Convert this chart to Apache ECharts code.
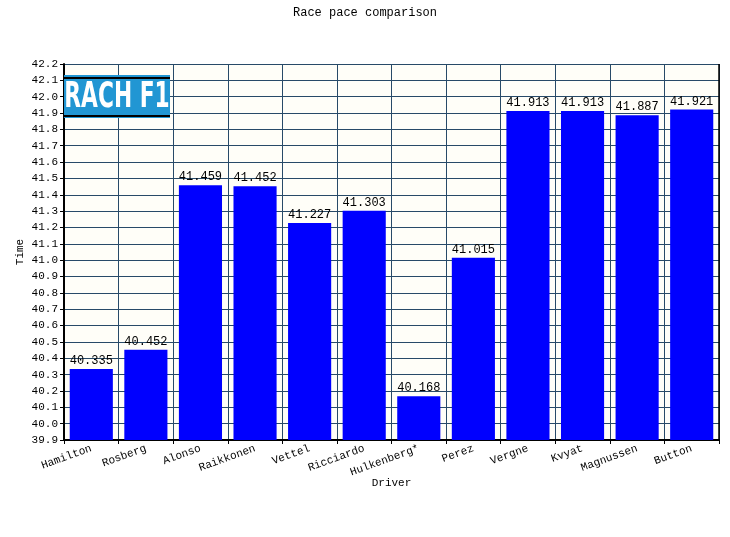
<!DOCTYPE html>
<html><head><meta charset="utf-8">
<script src="https://cdn.jsdelivr.net/npm/echarts@6/dist/echarts.min.js"></script>
<style>html,body{margin:0;padding:0;background:#fff}#c{width:730px;height:537px}</style>
</head><body><div id="c"></div>
<script>
var drivers = ['Hamilton','Rosberg','Alonso','Raikkonen','Vettel','Ricciardo','Hulkenberg*','Perez','Vergne','Kvyat','Magnussen','Button'];
var paceTimes = [40.335, 40.452, 41.459, 41.452, 41.227, 41.303, 40.168, 41.015, 41.913, 41.913, 41.887, 41.921];
var yMin = 39.9, yMax = 42.2, yStep = 0.1;

var mono = '"Liberation Mono", "DejaVu Sans Mono", monospace';
var chart = echarts.init(document.getElementById('c'), null, {renderer:'canvas'});
chart.setOption({
  animation: false,
  backgroundColor: '#ffffff',
  title: {
    text: 'Race pace comparison', left: 'center', top: 2,
    textStyle: {fontFamily: mono, fontSize: 12, fontWeight: 'normal', color: '#000'}
  },
  grid: {left: 64, right: 11, top: 64, bottom: 97, show: true, backgroundColor: '#fffef8', borderWidth: 0},
  xAxis: {
    type: 'category', data: drivers,
    name: 'Driver', nameLocation: 'middle', nameGap: 38, nameMoveOverlap: false,
    nameTextStyle: {fontFamily: mono, fontSize: 11, color: '#000'},
    axisLine: {show: true, lineStyle: {color: '#000', width: 2}},
    axisTick: {show: true, alignWithLabel: false, length: 4, lineStyle: {color: '#000'}},
    axisLabel: {rotate: 20, fontFamily: mono, fontSize: 11, color: '#000', margin: 8, interval: 0},
    splitLine: {show: true, interval: 0, lineStyle: {color: '#284a68', width: 1}}
  },
  yAxis: {
    type: 'value', min: yMin, max: yMax, interval: yStep,
    name: 'Time', nameLocation: 'middle', nameGap: 38, nameRotate: 90, nameMoveOverlap: false,
    nameTextStyle: {fontFamily: mono, fontSize: 11, color: '#000'},
    axisLine: {show: true, lineStyle: {color: '#000', width: 2}},
    axisTick: {show: true, length: 4, lineStyle: {color: '#000'}},
    axisLabel: {fontFamily: mono, fontSize: 11, color: '#000', margin: 6,
      formatter: function(v){ return v.toFixed(1); }},
    splitLine: {show: true, lineStyle: {color: '#284a68', width: 1}}
  },
  series: [{
    type: 'bar', data: paceTimes, barCategoryGap: '21%',
    itemStyle: {color: '#0000ff'},
    label: {show: true, position: 'top', distance: 2, fontFamily: mono, fontSize: 12, color: '#000',
      formatter: function(p){ return p.value.toFixed(3); }}
  }],
  graphic: [
    {type: 'line', shape: {x1: 719, y1: 64, x2: 719, y2: 440}, style: {stroke: '#000', lineWidth: 1.5}, z: 10},
    {type: 'rect', shape: {x: 64, y: 75, width: 106, height: 43}, style: {fill: '#2196d3'}, z: 20},
    {type: 'rect', shape: {x: 64, y: 77, width: 106, height: 2}, style: {fill: '#000'}, z: 21},
    {type: 'rect', shape: {x: 64, y: 115, width: 106, height: 2}, style: {fill: '#000'}, z: 21},
    {type: 'text', x: 117, y: 98, scaleX: 0.68, scaleY: 1.12, z: 22, style: {
      text: 'RACH F1', fill: '#fff', fontFamily: '"DejaVu Sans", "Liberation Sans", sans-serif',
      fontWeight: 'bold', fontSize: 32, align: 'center', verticalAlign: 'middle',
      textShadowColor: '#0a3050', textShadowOffsetX: 2, textShadowOffsetY: 1.5, textShadowBlur: 0}}
  ]
});
</script></body></html>
